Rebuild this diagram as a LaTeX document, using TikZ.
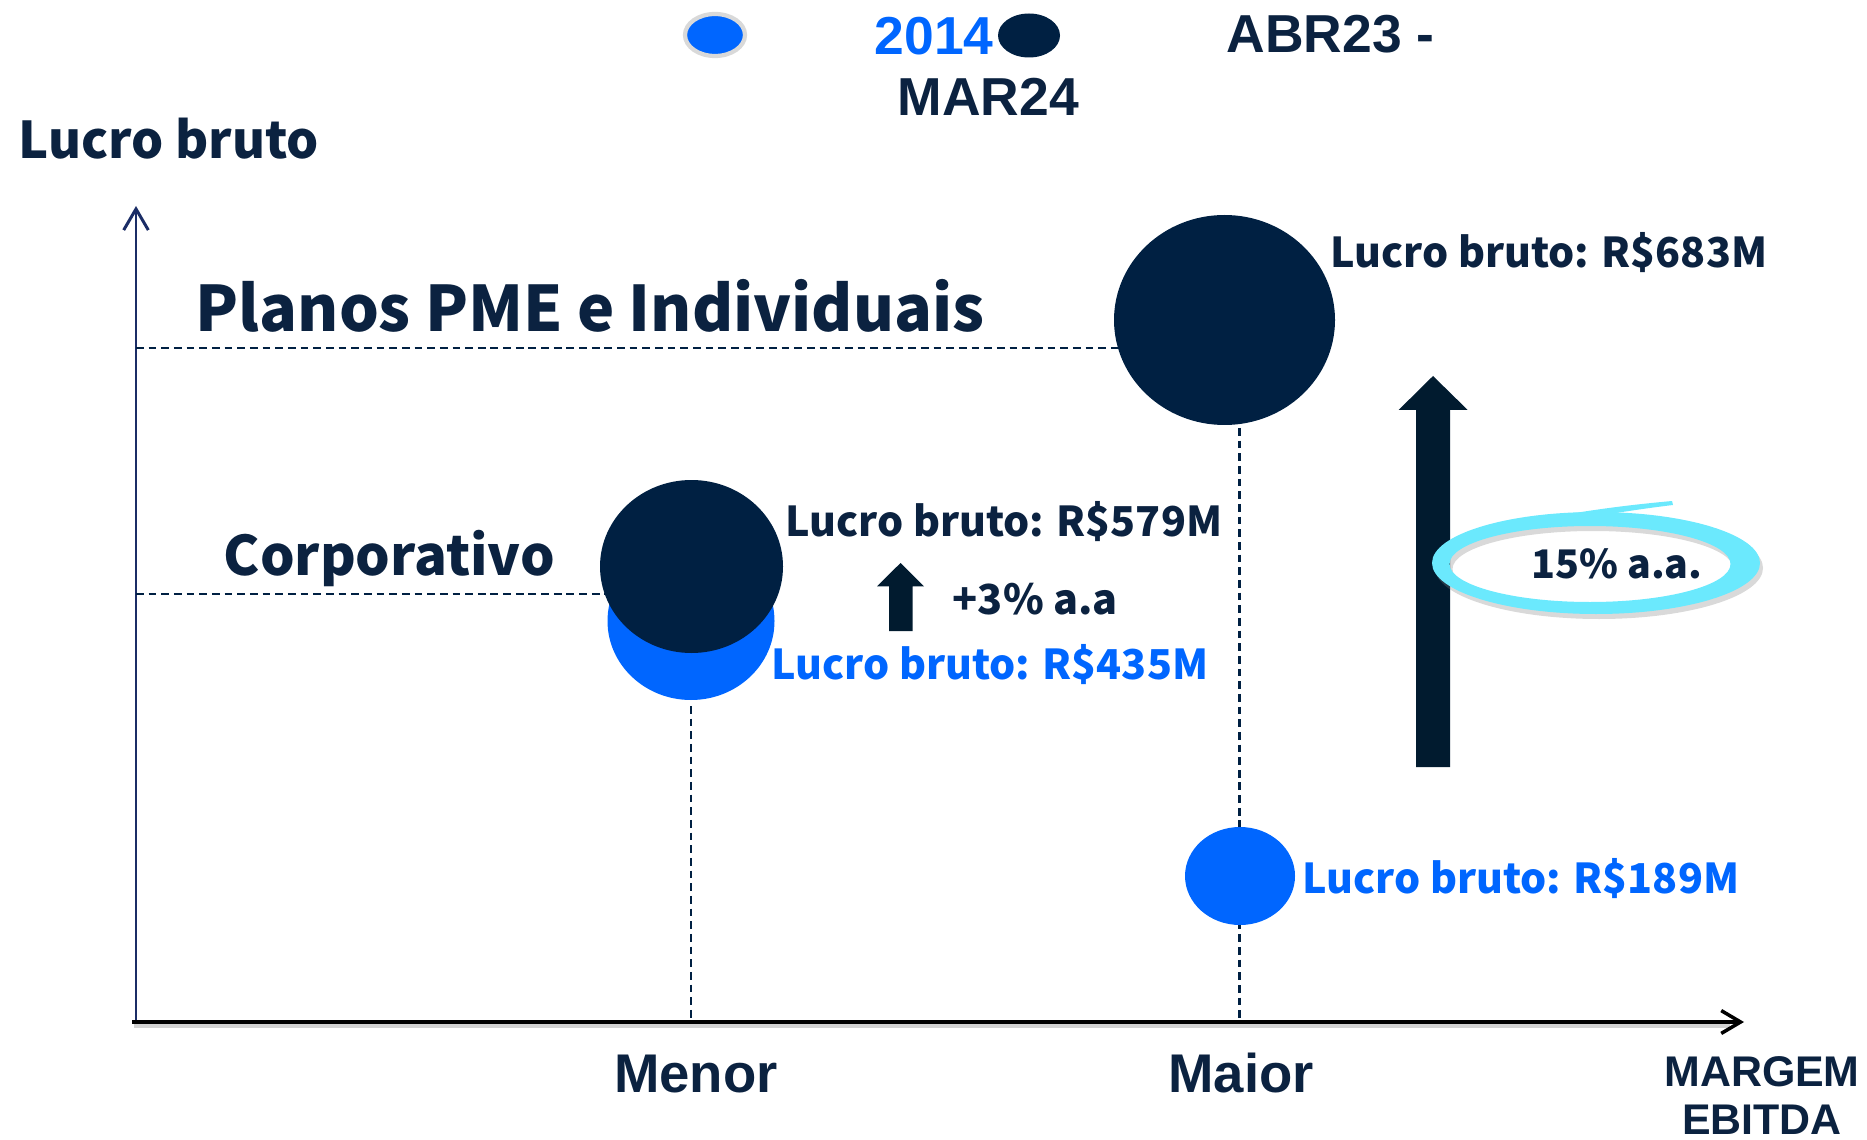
\documentclass[tikz,border=0pt]{standalone}
\usepackage{fontspec}
\setmainfont{Noto Sans CJK JP}
\newfontfamily\arialfont{Liberation Sans}
\usetikzlibrary{arrows.meta}
\definecolor{navy}{HTML}{002042}
\definecolor{ink}{HTML}{0B2240}
\definecolor{arrowink}{HTML}{011B2F}
\definecolor{axisblue}{HTML}{1B2D66}
\definecolor{blue14}{HTML}{0066FF}
\definecolor{ringcyan}{HTML}{6BE9FD}
\newcommand{\fsz}[1]{\fontsize{#1}{#1}\selectfont\bfseries}
\newcommand{\asz}[1]{\arialfont\fontsize{#1}{#1}\selectfont\bfseries}
\tikzset{
  lbl/.style={inner sep=0pt, text=ink, anchor=base west, font=\fsz{11.7}},
  blbl/.style={lbl, text=blue14},
  guide/.style={draw=navy, line width=0.6pt, dash pattern=on 2.2pt off 1.4pt},
  tick/.style={inner sep=0pt, text=ink, anchor=base, font=\asz{15.5}}
}
\begin{document}
\begin{tikzpicture}[x=0.01cm, y=-0.01cm]
\useasboundingbox (0,0) rectangle (1867,1140);
% legend
\filldraw[fill=blue14, draw=gray!30, line width=1.2pt] (715,35) ellipse [x radius=30, y radius=21];
\node[lbl, text=blue14, font=\asz{15.2}] (leg2014) at (874,55) {2014};
\fill[navy] (1029,35.5) ellipse [x radius=31, y radius=22];
\node[lbl, font=\asz{15.2}] (legabr) at (1226,53) {ABR23 -};
\node[lbl, font=\asz{15.2}] (legmar) at (897,116) {MAR24};
% axes
\coordinate (o) at (136,1022);
\coordinate (ytop) at (136,206);
\coordinate (xstart) at (132,1022);
\coordinate (xend) at (1744,1022);
\draw[axisblue, line width=0.85pt, -{Straight Barb[length=6pt, width=7pt]}] (o) -- (ytop);
\draw[gray!35, line width=1pt] (134,1026) -- (1730,1026);
\draw[black, line width=1.3pt, -{Straight Barb[length=5.5pt, width=6.5pt, line width=1pt]}] (xstart) -- (xend);
\node[lbl, font=\fsz{14.4}] (ytitle) at (18,159) {Lucro bruto};
% guides
\coordinate (pmeax) at (136,348);
\coordinate (pmeedge) at (1118,348);
\coordinate (corpax) at (136,593.6);
\coordinate (corpedge) at (605,593.6);
\coordinate (corptop) at (691,706);
\coordinate (corpfoot) at (691,1020);
\coordinate (pmetop) at (1239.5,428);
\coordinate (pmefoot) at (1239.5,1020);
\draw[guide] (pmeax) -- (pmeedge);
\draw[guide] (corpax) -- (corpedge);
\draw[guide] (corptop) -- (corpfoot);
\draw[guide] (pmetop) -- (pmefoot);
% bubbles
\fill[navy] (1224.5,320) ellipse [x radius=110.5, y radius=105];
\fill[blue14] (691,621) ellipse [x radius=83.5, y radius=79];
\fill[navy] (691.5,566.5) ellipse [x radius=91.5, y radius=86.5];
\fill[blue14] (1240,876) ellipse [x radius=55, y radius=49];
% segment names
\node[lbl, font=\fsz{17.85}] (pme) at (195,331.5) {Planos PME e Individuais};
\node[lbl, font=\fsz{15.5}] (corp) at (223,575) {Corporativo};
% values
\node[lbl] (v683) at (1330,268) {Lucro bruto: R\$683M};
\node[lbl] (v579) at (785,536) {Lucro bruto: R\$579M};
\node[blbl] (v435) at (771,679) {Lucro bruto: R\$435M};
\node[blbl] (v189) at (1302,893) {Lucro bruto: R\$189M};
% growth arrows
\fill[arrowink] (889,631) -- (889,586.4) -- (877,586.4) -- (900.5,563) -- (924,586.4) -- (912.5,586.4) -- (912.5,631) -- cycle;
\node[lbl, font=\fsz{11.75}] (g3) at (952,614) {+3\% a.a};
\fill[arrowink] (1416,767) -- (1416,410) -- (1398.6,410) -- (1433,376) -- (1467.7,410) -- (1450,410) -- (1450,767) -- cycle;
% ring
\fill[gray, opacity=0.3, even odd rule] (1599,568) ellipse [x radius=164, y radius=51] (1593,569) ellipse [x radius=140.5, y radius=38];
\fill[ringcyan, even odd rule] (1596,563) ellipse [x radius=164, y radius=51] (1590,564) ellipse [x radius=140.5, y radius=38];
\fill[ringcyan] (1540,519) .. controls (1600,508) and (1640,504) .. (1672,501) -- (1673,505) .. controls (1640,509) and (1600,515) .. (1560,523) -- cycle;
\node[lbl, font=\fsz{11.2}] (g15) at (1530.6,578.8) {15\% a.a.};
% x ticks
\node[tick] (menor) at (696,1092) {Menor};
\node[tick] (maior) at (1241,1092) {Maior};
\node[tick, font=\asz{12.2}] (margem) at (1762,1086) {MARGEM};
\node[tick, font=\asz{12.2}] (ebitda) at (1762,1134) {EBITDA};
\end{tikzpicture}
\end{document}
